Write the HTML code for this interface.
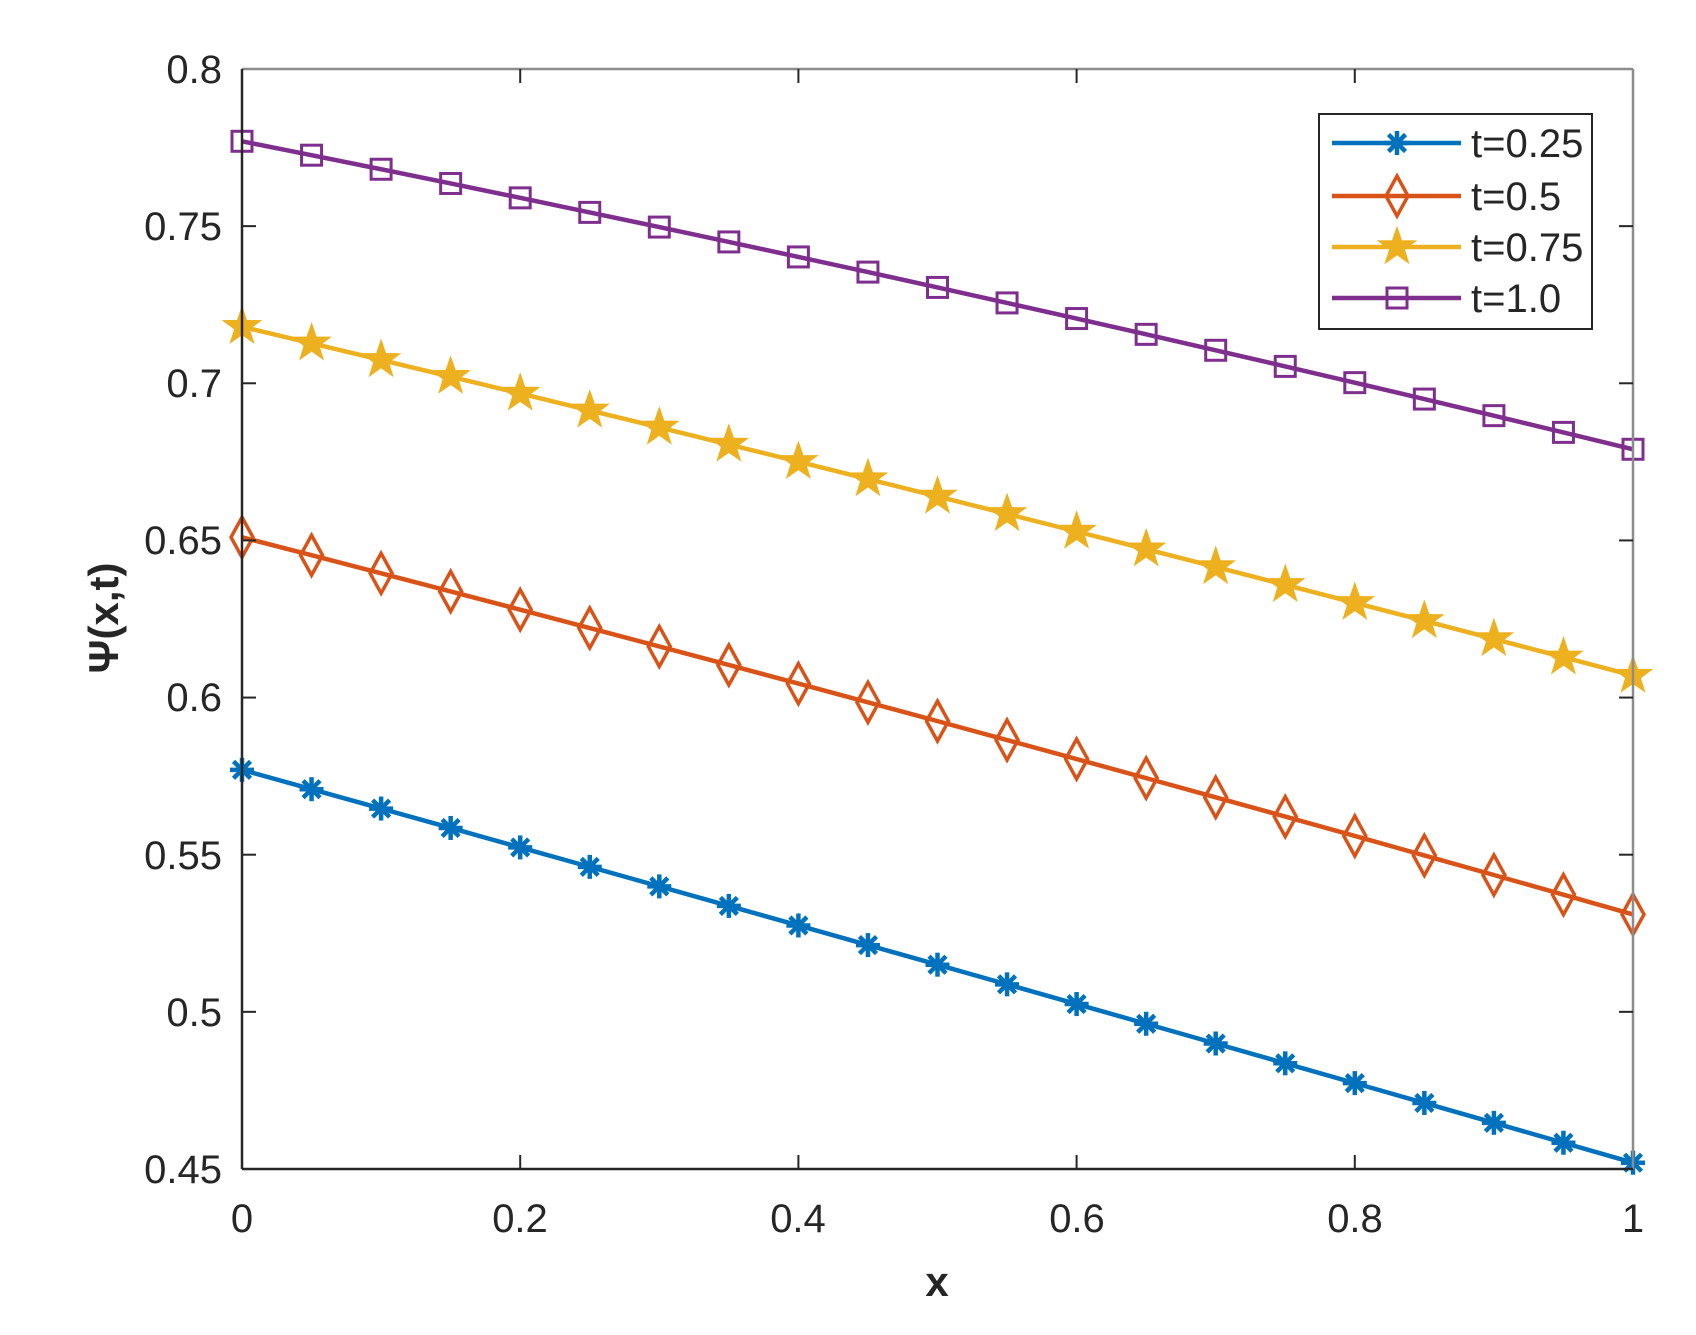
<!DOCTYPE html>
<html><head><meta charset="utf-8"><style>
html,body{margin:0;padding:0;background:#fff;}
svg{display:block;}
text{font-family:"Liberation Sans",Arial,sans-serif;fill:#262626;}
</style></head><body>
<svg id="s" width="1696" height="1335" viewBox="0 0 1696 1335" xmlns="http://www.w3.org/2000/svg">
<rect width="1696" height="1335" fill="#fff"/>
<g id="plot"></g>
<!-- axes -->
<line x1="242" y1="69" x2="1633" y2="69" stroke="#8c8c8c" stroke-width="2.5"/>
<line x1="1633" y1="69" x2="1633" y2="1169" stroke="#8c8c8c" stroke-width="2.5"/>
<line x1="242" y1="69" x2="242" y2="1169" stroke="#262626" stroke-width="2.5"/>
<line x1="242" y1="1169" x2="1633" y2="1169" stroke="#262626" stroke-width="2.5"/>
<g id="ticks"></g>
<g font-size="40" text-anchor="end">
<text x="222" y="83">0.8</text>
<text x="222" y="240">0.75</text>
<text x="222" y="397">0.7</text>
<text x="222" y="554">0.65</text>
<text x="222" y="711">0.6</text>
<text x="222" y="869">0.55</text>
<text x="222" y="1026">0.5</text>
<text x="222" y="1183">0.45</text>
</g>
<g font-size="40" text-anchor="middle">
<text x="242" y="1232">0</text>
<text x="520" y="1232">0.2</text>
<text x="798" y="1232">0.4</text>
<text x="1077" y="1232">0.6</text>
<text x="1355" y="1232">0.8</text>
<text x="1633" y="1232">1</text>
</g>
<text x="937" y="1296" font-size="42" font-weight="bold" text-anchor="middle">x</text>
<text transform="translate(118,618) rotate(-90)" font-size="42" font-weight="bold" text-anchor="middle">Ψ(x,t)</text>
<!-- legend -->
<rect x="1319" y="114" width="273" height="215" fill="#fff" stroke="#262626" stroke-width="2"/>
<g id="leg"></g>
<g font-size="40">
<text x="1471" y="157">t=0.25</text>
<text x="1471" y="210">t=0.5</text>
<text x="1471" y="261">t=0.75</text>
<text x="1471" y="312">t=1.0</text>
</g>
</svg>
<script>
const NS="http://www.w3.org/2000/svg";
function el(p,t,a){const e=document.createElementNS(NS,t);for(const k in a)e.setAttribute(k,a[k]);p.appendChild(e);return e;}
const X=x=>242+x*1391, Y=v=>69+(0.8-v)/0.05*157.14;
const ticks=document.getElementById('ticks');
for(let i=1;i<5;i++){const x=X(i*0.2);
el(ticks,'line',{x1:x,y1:1169,x2:x,y2:1155,stroke:'#262626','stroke-width':2});
el(ticks,'line',{x1:x,y1:69,x2:x,y2:83,stroke:'#262626','stroke-width':2});}
for(let i=1;i<7;i++){const y=Y(0.8-i*0.05);
el(ticks,'line',{x1:242,y1:y,x2:256,y2:y,stroke:'#262626','stroke-width':2});
el(ticks,'line',{x1:1633,y1:y,x2:1619,y2:y,stroke:'#262626','stroke-width':2});}
const series=[
 {c:'#0072BD',v:[0.577,0.515,0.452],m:'ast'},
 {c:'#D95319',v:[0.651,0.5925,0.531],m:'dia'},
 {c:'#EDB120',v:[0.718,0.664,0.607],m:'star'},
 {c:'#7E2F8E',v:[0.777,0.7305,0.679],m:'sq'}];
function quad(v,x){const [a,b,c]=v;return a*2*(x-0.5)*(x-1)+b*(-4)*x*(x-1)+c*2*x*(x-0.5);}
function marker(g,m,x,y,c){
 if(m=='ast'){for(let k=0;k<4;k++){const an=k*Math.PI/4,r=12;
   el(g,'line',{x1:x-r*Math.cos(an),y1:y-r*Math.sin(an),x2:x+r*Math.cos(an),y2:y+r*Math.sin(an),stroke:c,'stroke-width':4.5});}}
 else if(m=='dia'){el(g,'polygon',{points:`${x},${y-20} ${x+11},${y} ${x},${y+20} ${x-11},${y}`,fill:'none',stroke:c,'stroke-width':3.5});}
 else if(m=='sq'){el(g,'rect',{x:x-10,y:y-10,width:20,height:20,fill:'none',stroke:c,'stroke-width':3});}
 else{let p=[];for(let k=0;k<10;k++){const r=k%2?7.5:19,an=-Math.PI/2+k*Math.PI/5;p.push((x+r*Math.cos(an)).toFixed(1)+','+(y+r*Math.sin(an)).toFixed(1));}
   el(g,'polygon',{points:p.join(' '),fill:c,stroke:c,'stroke-width':1.5});}
}
const plot=document.getElementById('plot');
series.forEach(s=>{let pts=[];for(let i=0;i<=20;i++){const x=i/20;pts.push([X(x),Y(quad(s.v,x))]);}
 el(plot,'polyline',{points:pts.map(p=>p.join(',')).join(' '),fill:'none',stroke:s.c,'stroke-width':4.5});
 pts.forEach(p=>marker(plot,s.m,p[0],p[1],s.c));});
const leg=document.getElementById('leg');const ly=[143,196,247,298];
series.forEach((s,i)=>{el(leg,'line',{x1:1332,y1:ly[i],x2:1461,y2:ly[i],stroke:s.c,'stroke-width':4.5});marker(leg,s.m,1397,ly[i],s.c);});
</script>
</body></html>
